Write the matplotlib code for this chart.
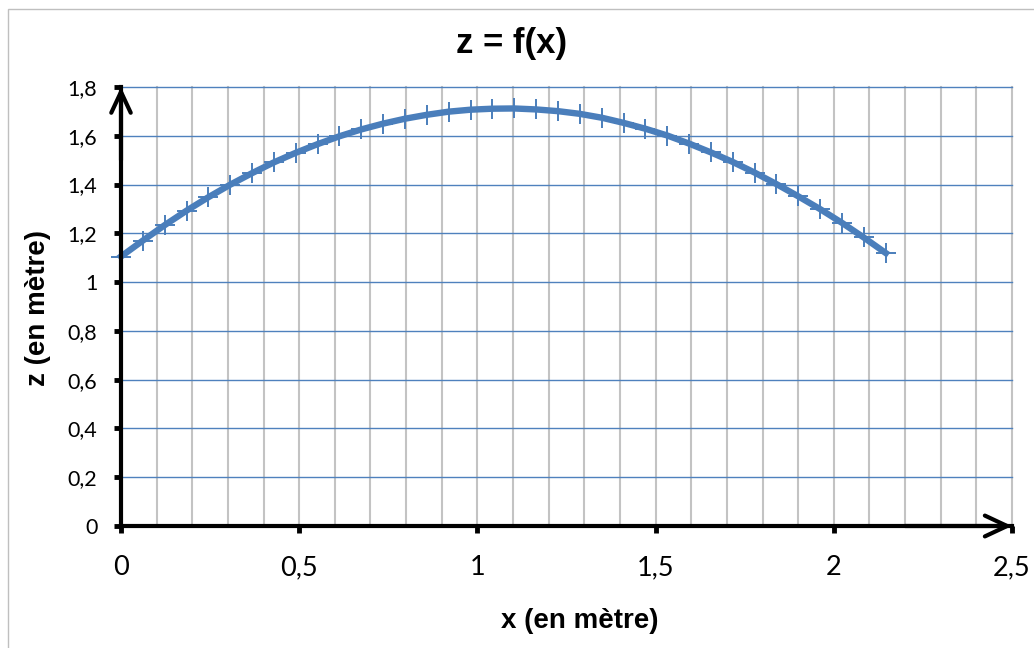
import matplotlib
matplotlib.use("Agg")
import matplotlib.pyplot as plt
from matplotlib.patches import Rectangle

# ---- data ----
x_values = [0.000, 0.061, 0.123, 0.184, 0.245, 0.307, 0.368, 0.429, 0.490, 0.552,
            0.613, 0.674, 0.736, 0.797, 0.858, 0.920, 0.981, 1.042, 1.103, 1.165,
            1.226, 1.287, 1.349, 1.410, 1.471, 1.533, 1.594, 1.655, 1.716, 1.778,
            1.839, 1.900, 1.962, 2.023, 2.084, 2.146]
z_values = [1.105, 1.170, 1.234, 1.293, 1.348, 1.400, 1.447, 1.491, 1.530, 1.566,
            1.598, 1.626, 1.650, 1.670, 1.686, 1.699, 1.707, 1.711, 1.712, 1.708,
            1.701, 1.690, 1.674, 1.653, 1.629, 1.601, 1.568, 1.532, 1.493, 1.449,
            1.402, 1.352, 1.299, 1.243, 1.183, 1.119]

x_ticks = [0, 0.5, 1, 1.5, 2, 2.5]
x_tick_labels = ["0", "0,5", "1", "1,5", "2", "2,5"]
y_ticks = [0, 0.2, 0.4, 0.6, 0.8, 1.0, 1.2, 1.4, 1.6, 1.8]
y_tick_labels = ["0", "0,2", "0,4", "0,6", "0,8", "1", "1,2", "1,4", "1,6", "1,8"]
x_minor = [i / 10 for i in range(26)]

title_text = "z = f(x)"
x_label = "x (en mètre)"
y_label = "z (en mètre)"

W, H = 1034, 648
fig = plt.figure(figsize=(W / 100, H / 100), dpi=100)
fig.patch.set_facecolor("white")

# outer chart border
fig.add_artist(Rectangle((8 / W, -0.2), 1.2, 1.2 - 9 / H, transform=fig.transFigure,
                         fill=False, edgecolor="#bfbfbf", linewidth=1.0))

ax = fig.add_axes([121 / W, (H - 526) / H, (1012 - 121) / W, (526 - 87) / H])
ax.set_xlim(0, 2.5)
ax.set_ylim(0, 1.8)

# grid
for xv in x_minor:
    ax.axvline(xv, color="#c3c3c3", linewidth=1.5, zorder=1, clip_on=False)
for yv in y_ticks:
    ax.axhline(yv, color="#4f81bd", linewidth=1.0, zorder=1, clip_on=False)

# data line
ax.plot(x_values, z_values, color="#4a7ebb", linewidth=4.6, marker="+",
        markersize=14, markeredgewidth=1.4, zorder=3, clip_on=False)

# spines
for s in ["top", "right"]:
    ax.spines[s].set_visible(False)
for s in ["left", "bottom"]:
    ax.spines[s].set_linewidth(3.0)
    ax.spines[s].set_color("black")
    ax.spines[s].set_zorder(4)

ax.set_xticks(x_ticks)
ax.set_xticklabels(x_tick_labels, fontfamily="Lato", fontsize=19.5)
ax.set_yticks(y_ticks)
ax.set_yticklabels(y_tick_labels, fontfamily="Lato", fontsize=15.5)
ax.tick_params(axis="both", direction="out", length=5, width=3.5, color="black")
ax.tick_params(axis="x", pad=16)
ax.tick_params(axis="y", pad=12)

# arrows on axes
ax.annotate("", xy=(0, 1.8), xytext=(0, 1.5),
            arrowprops=dict(arrowstyle="->,head_length=1.5,head_width=0.7",
                            lw=3.0, color="black", shrinkA=0, shrinkB=0),
            annotation_clip=False, zorder=5)
ax.annotate("", xy=(2.5, 0), xytext=(2.2, 0),
            arrowprops=dict(arrowstyle="->,head_length=1.6,head_width=0.75",
                            lw=3.0, color="black", shrinkA=0, shrinkB=0),
            annotation_clip=False, zorder=5)

# texts
fig.text(512 / W, 1 - 43 / H, title_text, ha="center", va="center",
         fontfamily="Liberation Sans", fontweight="bold", fontsize=25)
fig.text(580 / W, 1 - 621 / H, x_label, ha="center", va="center",
         fontfamily="Liberation Sans", fontweight="bold", fontsize=20)
fig.text(38 / W, 1 - 308 / H, y_label, ha="center", va="center", rotation=90,
         fontfamily="Liberation Sans", fontweight="bold", fontsize=20)

fig.savefig("out.png", dpi=100, facecolor="white")
